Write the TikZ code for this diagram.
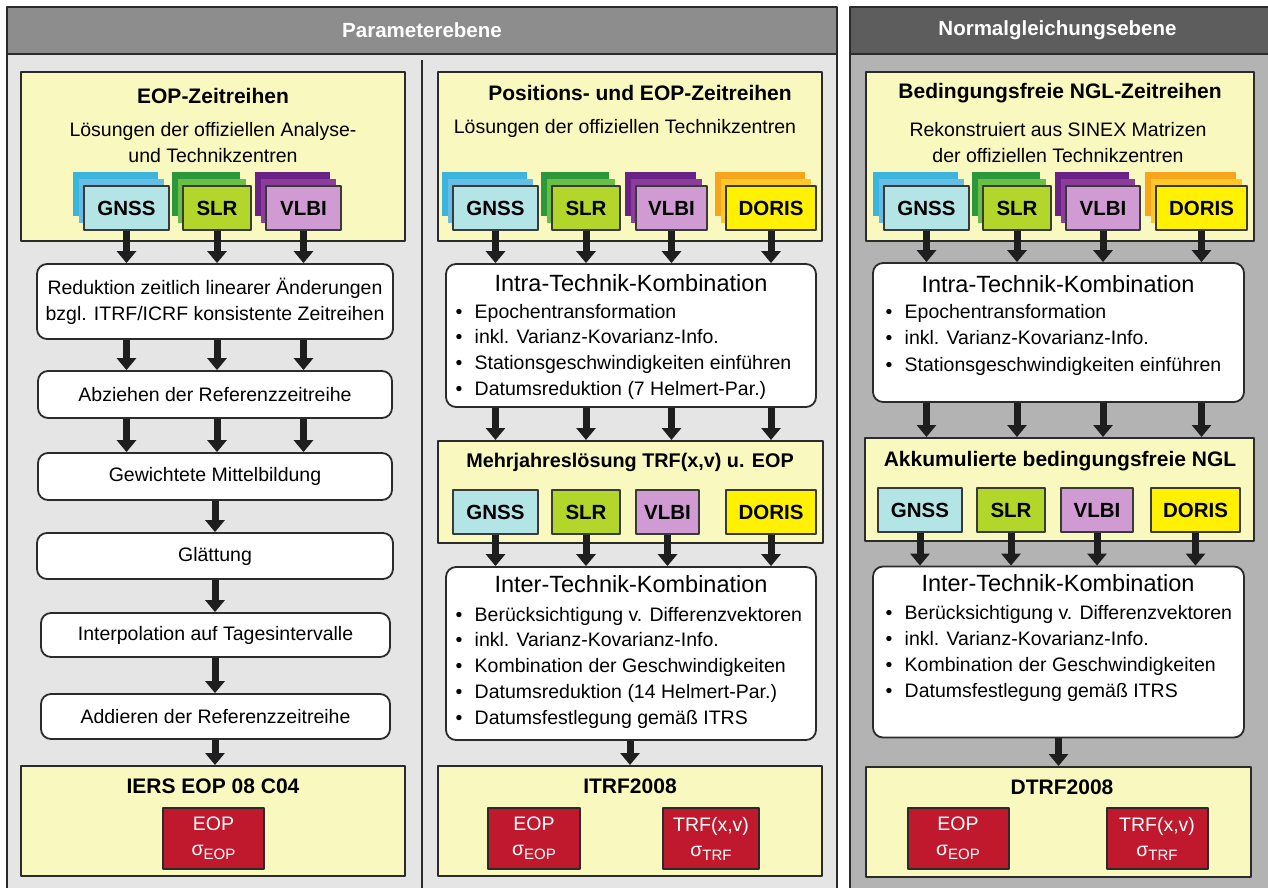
\documentclass[tikz,border=0pt]{standalone}
\usepackage{fontspec}
\setmainfont{Liberation Sans}
\usetikzlibrary{arrows.meta}
\definecolor{frame}{HTML}{2B2B2B}
\definecolor{techline}{HTML}{3A3A3A}
\definecolor{arrcol}{HTML}{1E1E1E}
\definecolor{hdrL}{HTML}{8D8D8D}
\definecolor{bodyL}{HTML}{E5E5E5}
\definecolor{hdrR}{HTML}{5D5D5D}
\definecolor{bodyR}{HTML}{B3B3B3}
\definecolor{ylw}{HTML}{F9F8BE}
\definecolor{sigred}{HTML}{C0192E}
\definecolor{gnssA}{HTML}{B3E4E6}
\definecolor{gnssB}{HTML}{67BCE3}
\definecolor{gnssC}{HTML}{3BB4DE}
\definecolor{slrA}{HTML}{B2D62A}
\definecolor{slrB}{HTML}{6ABD45}
\definecolor{slrC}{HTML}{2B983C}
\definecolor{vlbiA}{HTML}{D09BD2}
\definecolor{vlbiB}{HTML}{8C3D9C}
\definecolor{vlbiC}{HTML}{6A2288}
\definecolor{dorisA}{HTML}{FFF100}
\definecolor{dorisB}{HTML}{FFC925}
\definecolor{dorisC}{HTML}{F7A51D}

\newcommand\techstack[6]{%
  \fill[#5C] (#2-#4/2-11,#3-36) rectangle (#2+#4/2-11,#3+8);
  \fill[#5B] (#2-#4/2-5.5,#3-29) rectangle (#2+#4/2-5.5,#3+15);
  \node[tech,fill=#5A,minimum width=#4] (#1) at (#2,#3) {#6};}
\newcommand\lowidx[1]{\raisebox{-4pt}{\fontsize{15}{15}\selectfont #1}}
\newcommand\bul{\makebox[19pt][l]{•}}

\begin{document}
\begin{tikzpicture}[x=1pt,y=-1pt,line join=round,
  hdr/.style={draw=frame,line width=2pt,minimum height=47,text=white,font=\fontsize{20.5}{24}\selectfont\bfseries},
  ybox/.style={draw=frame,line width=2pt,fill=ylw},
  rbox/.style={draw=frame,line width=1.8pt,fill=white,rounded corners=10pt},
  tech/.style={draw=techline,line width=1.2pt,minimum height=44,inner sep=0pt,font=\fontsize{20.5}{24}\selectfont\bfseries},
  sigbox/.style={draw=frame,line width=2pt,fill=sigred,minimum width=101,minimum height=61,text=white,align=center,inner sep=0pt,font=\fontsize{19.5}{25}\selectfont},
  ttl/.style={font=\fontsize{21}{25}\selectfont\bfseries},
  txt/.style={font=\fontsize{19.5}{26}\selectfont,align=center},
  ktitle/.style={font=\fontsize{23.5}{28}\selectfont},
  itm/.style={anchor=west,inner sep=0pt,text height=14pt,text depth=4pt,font=\fontsize{19.5}{26}\selectfont},
  arr/.style={draw=arrcol,line width=7pt,-{Triangle[length=12pt,width=19pt]}}]
  \useasboundingbox (0,0) rectangle (1268,888);
  \fill[white] (0,0) rectangle (1268,888);

  % panels
  \filldraw[fill=bodyL,draw=frame,line width=2pt] (7,54) rectangle (837,900);
  \node[hdr,fill=hdrL,minimum width=830] (phdr) at (422,30.5) {Parameterebene};
  \filldraw[fill=bodyR,draw=frame,line width=2pt] (850,54) rectangle (1280,900);
  \node[hdr,fill=hdrR,minimum width=430] (nhdr) at (1065,30.5) {Normalgleichungsebene\hspace*{15pt}};
  \draw[frame,line width=2pt] (421.5,60) -- (421.5,900);

  % EOP-Zeitreihen
  \node[ybox,minimum width=384,minimum height=169] (leop) at (213,156.5) {};
  \node[ttl] (leopt) at (213,96) {EOP-Zeitreihen};
  \node[txt] (leops) at (213,143) {Lösungen der offiziellen Analyse-\\und Technikzentren};
  \techstack{lgnss}{126.5}{208}{85}{gnss}{GNSS}
  \techstack{lslr}{217}{208}{68}{slr}{SLR}
  \techstack{lvlbi}{303.5}{208}{75}{vlbi}{VLBI}

  \node[rbox,txt,minimum width=356,minimum height=75] (lred) at (215,301.5) {Reduktion zeitlich linearer Änderungen\\bzgl. ITRF/ICRF konsistente Zeitreihen};
  \node[rbox,txt,minimum width=354,minimum height=47] (labz) at (215,394.5) {Abziehen der Referenzzeitreihe};
  \node[rbox,txt,minimum width=354,minimum height=47] (lgew) at (215,476.5) {Gewichtete Mittelbildung};
  \node[rbox,txt,minimum width=356,minimum height=46] (lglt) at (215,556) {Glättung};
  \node[rbox,txt,minimum width=349,minimum height=44] (lipl) at (215.5,635) {Interpolation auf Tagesintervalle};
  \node[rbox,txt,minimum width=349,minimum height=45] (ladd) at (215.5,716.5) {Addieren der Referenzzeitreihe};

  \node[ybox,minimum width=384,minimum height=110] (liers) at (213,821) {};
  \node[ttl] (lierst) at (213,786) {IERS EOP 08 C04};
  \node[sigbox] (leopsig) at (213.5,838.5) {EOP\\σ\lowidx{EOP}};

  \foreach \tk in {lgnss,lslr,lvlbi}{
    \draw[arr] (\tk.south) -- (\tk.south |- lred.north);
    \draw[arr] (\tk.south |- lred.south) -- (\tk.south |- labz.north);
    \draw[arr] (\tk.south |- labz.south) -- (\tk.south |- lgew.north);
  }
  \draw[arr] (lgew.south) -- (lgew.south |- lglt.north);
  \draw[arr] (lgew.south |- lglt.south) -- (lgew.south |- lipl.north);
  \draw[arr] (lgew.south |- lipl.south) -- (lgew.south |- ladd.north);
  \draw[arr] (lgew.south |- ladd.south) -- (lgew.south |- liers.north);

  % Positions- und EOP-Zeitreihen
  \node[ybox,minimum width=384,minimum height=169] (mpos) at (630,156.5) {};
  \node[ttl] (mpost) at (640,93) {Positions- und EOP-Zeitreihen};
  \node[txt] (mposs) at (625,128) {Lösungen der offiziellen Technikzentren};
  \techstack{mgnss}{495.5}{208}{85}{gnss}{GNSS}
  \techstack{mslr}{586}{208}{68}{slr}{SLR}
  \techstack{mvlbi}{671.5}{208}{71}{vlbi}{VLBI}
  \techstack{mdoris}{771}{208}{90}{doris}{DORIS}

  \node[rbox,minimum width=370,minimum height=143] (mintra) at (631,335.5) {};
  \node[ktitle] (mintrat) at (631,283) {Intra-Technik-Kombination};
  \foreach \tx [count=\i from 0] in {Epochentransformation,inkl. Varianz-Kovarianz-Info.,Stationsgeschwindigkeiten einführen,Datumsreduktion (7 Helmert-Par.)}
    \node[itm] (mintra\i) at (455.5,313+25.7*\i) {\bul\tx};

  \node[ybox,minimum width=385,minimum height=102] (mmehr) at (630.5,492) {};
  \node[ttl,font=\fontsize{19.8}{24}\selectfont\bfseries] (mmehrt) at (630,462) {Mehrjahreslösung TRF(x,v) u. EOP};
  \node[tech,fill=gnssA,minimum width=85] (mgnss2) at (495.5,512) {GNSS};
  \node[tech,fill=slrA,minimum width=68] (mslr2) at (586,512) {SLR};
  \node[tech,fill=vlbiA,minimum width=63] (mvlbi2) at (667.5,512) {VLBI};
  \node[tech,fill=dorisA,minimum width=90] (mdoris2) at (771,512) {DORIS};

  \node[rbox,minimum width=370,minimum height=173] (minter) at (631,653.5) {};
  \node[ktitle] (mintert) at (631,584) {Inter-Technik-Kombination};
  \foreach \tx [count=\i from 0] in {Berücksichtigung v. Differenzvektoren,inkl. Varianz-Kovarianz-Info.,Kombination der Geschwindigkeiten,Datumsreduktion (14 Helmert-Par.),Datumsfestlegung gemäß ITRS}
    \node[itm] (minter\i) at (455.5,616+25.75*\i) {\bul\tx};

  \node[ybox,minimum width=384,minimum height=110] (mitrf) at (630,821) {};
  \node[ttl] (mitrft) at (630,786) {ITRF2008};
  \node[sigbox,minimum width=92] (meopsig) at (534,838.5) {EOP\\σ\lowidx{EOP}};
  \node[sigbox,minimum width=96] (mtrfsig) at (711,838.5) {TRF(x,v)\\σ\lowidx{TRF}};

  \foreach \tk in {mgnss,mslr,mvlbi,mdoris}{
    \draw[arr] (\tk.south) -- (\tk.south |- mintra.north);
    \draw[arr] (\tk.south |- mintra.south) -- (\tk.south |- mmehr.north);
    \draw[arr] (\tk2.south) -- (\tk2.south |- minter.north);
  }
  \draw[arr] (mitrf.north |- minter.south) -- (mitrf.north);

  % Bedingungsfreie NGL-Zeitreihen
  \node[ybox,minimum width=388,minimum height=169] (rngl) at (1059.5,156.5) {};
  \node[ttl] (rnglt) at (1060,93) {Bedingungsfreie NGL-Zeitreihen};
  \node[txt] (rngls) at (1058,142.5) {Rekonstruiert aus SINEX Matrizen\\der offiziellen Technikzentren};
  \techstack{rgnss}{926.5}{208}{85}{gnss}{GNSS}
  \techstack{rslr}{1017}{208}{68}{slr}{SLR}
  \techstack{rvlbi}{1103}{208}{74}{vlbi}{VLBI}
  \techstack{rdoris}{1201.5}{208}{91}{doris}{DORIS}

  \node[rbox,minimum width=371,minimum height=139] (rintra) at (1058.5,332.5) {};
  \node[ktitle] (rintrat) at (1058,284) {Intra-Technik-Kombination};
  \foreach \tx [count=\i from 0] in {Epochentransformation,inkl. Varianz-Kovarianz-Info.,Stationsgeschwindigkeiten einführen}
    \node[itm] (rintra\i) at (885.5,313+26.5*\i) {\bul\tx};

  \node[ybox,minimum width=389,minimum height=103] (rakk) at (1059.5,489.5) {};
  \node[ttl] (rakkt) at (1060,461) {Akkumulierte bedingungsfreie NGL};
  \node[tech,fill=gnssA,minimum width=84] (rgnss2) at (920,510) {GNSS};
  \node[tech,fill=slrA,minimum width=68] (rslr2) at (1011,510) {SLR};
  \node[tech,fill=vlbiA,minimum width=72] (rvlbi2) at (1097,510) {VLBI};
  \node[tech,fill=dorisA,minimum width=89] (rdoris2) at (1195.5,510) {DORIS};

  \node[rbox,minimum width=371,minimum height=171] (rinter) at (1058.5,652) {};
  \node[ktitle] (rintert) at (1058,583) {Inter-Technik-Kombination};
  \foreach \tx [count=\i from 0] in {Berücksichtigung v. Differenzvektoren,inkl. Varianz-Kovarianz-Info.,Kombination der Geschwindigkeiten,Datumsfestlegung gemäß ITRS}
    \node[itm] (rinter\i) at (885.5,614+26*\i) {\bul\tx};

  \node[ybox,minimum width=385,minimum height=110] (rdtrf) at (1058.5,822) {};
  \node[ttl] (rdtrft) at (1062,787) {DTRF2008};
  \node[sigbox] (reopsig) at (958,838.5) {EOP\\σ\lowidx{EOP}};
  \node[sigbox] (rtrfsig) at (1157,838.5) {TRF(x,v)\\σ\lowidx{TRF}};

  \foreach \tk in {rgnss,rslr,rvlbi,rdoris}{
    \draw[arr] (\tk.south) -- (\tk.south |- rintra.north);
    \draw[arr] (\tk.south |- rintra.south) -- (\tk.south |- rakk.north);
    \draw[arr] (\tk2.south) -- (\tk2.south |- rinter.north);
  }
  \draw[arr] (rinter.south) -- (rinter.south |- rdtrf.north);
\end{tikzpicture}
\end{document}
